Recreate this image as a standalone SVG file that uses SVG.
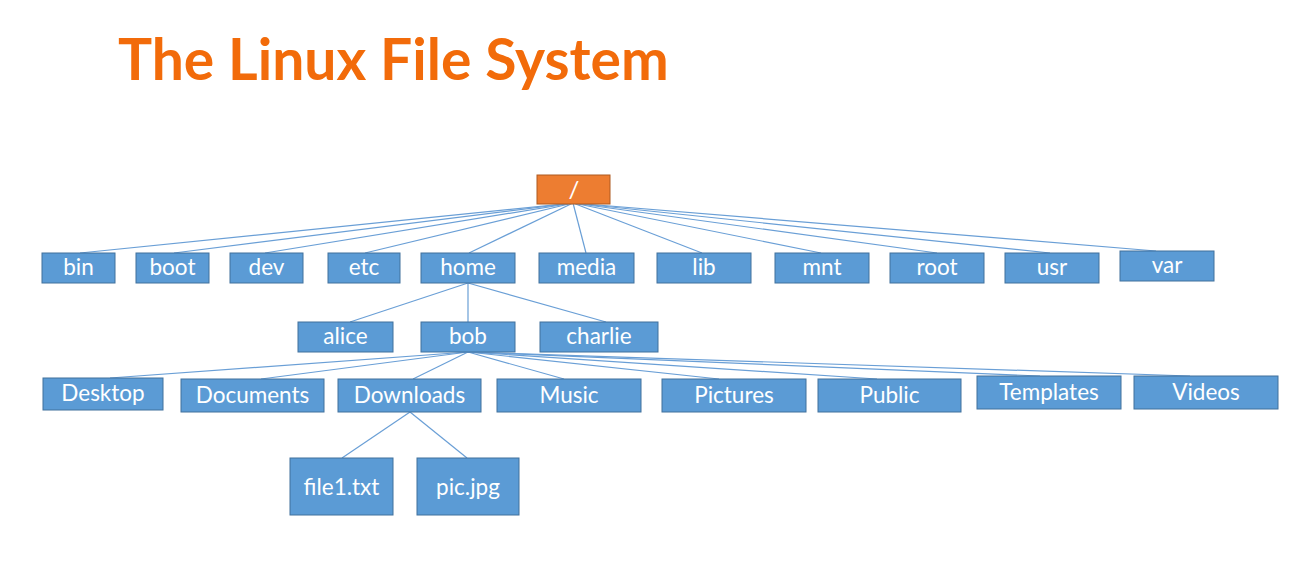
<svg xmlns="http://www.w3.org/2000/svg" width="1303" height="581" viewBox="0 0 1303 581">
<style>
.n rect{fill:#5B9BD5;stroke:#41719C;stroke-width:1}
.n text{fill:#fff;font-family:Lato,"Open Sans",sans-serif;font-size:22.5px;text-anchor:middle}
#root rect{fill:#ED7D31;stroke:#AE5A21}
#conn line{stroke:#6A9FD6;stroke-width:1.2}
.title{fill:#F26B0A;font-family:Lato,sans-serif;font-weight:bold;font-size:57px}
</style>
<rect width="1303" height="581" fill="#fff"/>
<text class="title" x="118" y="80">The Linux File System</text>
<g id="conn">
<line x1="573" y1="203" x2="80" y2="253"/>
<line x1="573" y1="203" x2="174" y2="253"/>
<line x1="573" y1="203" x2="265" y2="253"/>
<line x1="573" y1="203" x2="365" y2="253"/>
<line x1="573" y1="203" x2="469" y2="253"/>
<line x1="573" y1="203" x2="586" y2="253"/>
<line x1="573" y1="203" x2="702" y2="253"/>
<line x1="573" y1="203" x2="821" y2="253"/>
<line x1="573" y1="203" x2="937" y2="253"/>
<line x1="573" y1="203" x2="1050" y2="253"/>
<line x1="573" y1="203" x2="1156" y2="251"/>
<line x1="468" y1="283" x2="350" y2="322"/>
<line x1="468" y1="283" x2="468" y2="322"/>
<line x1="468" y1="283" x2="606" y2="322"/>
<line x1="468" y1="352" x2="110" y2="378"/>
<line x1="468" y1="352" x2="261" y2="379"/>
<line x1="468" y1="352" x2="413" y2="379"/>
<line x1="468" y1="352" x2="564" y2="379"/>
<line x1="468" y1="352" x2="719" y2="379"/>
<line x1="468" y1="352" x2="877" y2="379"/>
<line x1="468" y1="352" x2="1040" y2="376"/>
<line x1="468" y1="352" x2="1190" y2="376"/>
<line x1="410" y1="412" x2="342" y2="458"/>
<line x1="410" y1="412" x2="467" y2="458"/>
</g>
<g id="root" class="n"><rect x="537" y="175" width="73" height="29"/><text x="574" y="198" style="font-size:24px">/</text></g>
<g id="bin" class="n"><rect x="42" y="253" width="73" height="30"/><text x="78.5" y="275">bin</text></g>
<g id="boot" class="n"><rect x="136" y="253" width="73" height="30"/><text x="172.5" y="275">boot</text></g>
<g id="dev" class="n"><rect x="230" y="253" width="73" height="30"/><text x="266.5" y="275">dev</text></g>
<g id="etc" class="n"><rect x="328" y="253" width="72" height="30"/><text x="364" y="275">etc</text></g>
<g id="home" class="n"><rect x="421" y="253" width="94" height="30"/><text x="468" y="275">home</text></g>
<g id="media" class="n"><rect x="539" y="253" width="95" height="30"/><text x="586.5" y="275">media</text></g>
<g id="lib" class="n"><rect x="657" y="253" width="94" height="30"/><text x="704" y="275">lib</text></g>
<g id="mnt" class="n"><rect x="775" y="253" width="94" height="30"/><text x="822" y="275">mnt</text></g>
<g id="rootdir" class="n"><rect x="890" y="253" width="94" height="30"/><text x="937" y="275">root</text></g>
<g id="usr" class="n"><rect x="1005" y="253" width="94" height="30"/><text x="1052" y="275">usr</text></g>
<g id="var" class="n"><rect x="1120" y="251" width="94" height="30"/><text x="1167" y="273">var</text></g>
<g id="alice" class="n"><rect x="298" y="322" width="95" height="30"/><text x="345.5" y="344">alice</text></g>
<g id="bob" class="n"><rect x="421" y="322" width="94" height="30"/><text x="468" y="344">bob</text></g>
<g id="charlie" class="n"><rect x="540" y="322" width="118" height="30"/><text x="599" y="344">charlie</text></g>
<g id="desktop" class="n"><rect x="43" y="378" width="120" height="32"/><text x="103" y="401">Desktop</text></g>
<g id="documents" class="n"><rect x="181" y="379" width="143" height="33"/><text x="252.5" y="403">Documents</text></g>
<g id="downloads" class="n"><rect x="338" y="379" width="143" height="33"/><text x="409.5" y="403">Downloads</text></g>
<g id="music" class="n"><rect x="497" y="379" width="144" height="33"/><text x="569" y="403">Music</text></g>
<g id="pictures" class="n"><rect x="662" y="379" width="144" height="33"/><text x="734" y="403">Pictures</text></g>
<g id="public" class="n"><rect x="818" y="379" width="143" height="33"/><text x="889.5" y="403">Public</text></g>
<g id="templates" class="n"><rect x="977" y="376" width="144" height="33"/><text x="1049" y="400">Templates</text></g>
<g id="videos" class="n"><rect x="1134" y="376" width="144" height="33"/><text x="1206" y="400">Videos</text></g>
<g id="file1" class="n"><rect x="290" y="458" width="103" height="57"/><text x="341.5" y="495">file1.txt</text></g>
<g id="pic" class="n"><rect x="417" y="458" width="102" height="57"/><text x="468" y="495">pic.jpg</text></g>
</svg>
